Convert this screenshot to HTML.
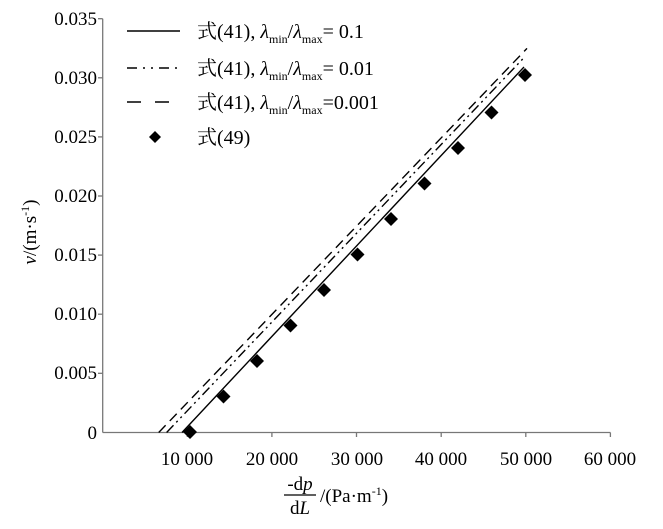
<!DOCTYPE html>
<html><head><meta charset="utf-8"><style>
body{margin:0;background:#fff}
svg text{font-family:"Liberation Serif","Noto Serif CJK SC",serif;fill:#000}
</style></head><body>
<svg width="663" height="524" viewBox="0 0 663 524" xmlns="http://www.w3.org/2000/svg">
<g stroke="#777" stroke-width="1.3" fill="none">
<line x1="102.7" y1="18.7" x2="102.7" y2="432.5"/>
<line x1="102.7" y1="432.5" x2="610.4" y2="432.5"/>
<line x1="98" y1="18.7" x2="102.7" y2="18.7"/>
<line x1="98" y1="77.8" x2="102.7" y2="77.8"/>
<line x1="98" y1="136.9" x2="102.7" y2="136.9"/>
<line x1="98" y1="196" x2="102.7" y2="196"/>
<line x1="98" y1="255.1" x2="102.7" y2="255.1"/>
<line x1="98" y1="314.2" x2="102.7" y2="314.2"/>
<line x1="98" y1="373.3" x2="102.7" y2="373.3"/>
<line x1="187.3" y1="432.5" x2="187.3" y2="437"/>
<line x1="271.9" y1="432.5" x2="271.9" y2="437"/>
<line x1="356.5" y1="432.5" x2="356.5" y2="437"/>
<line x1="441.2" y1="432.5" x2="441.2" y2="437"/>
<line x1="525.8" y1="432.5" x2="525.8" y2="437"/>
<line x1="610.4" y1="432.5" x2="610.4" y2="437"/>
</g>
<g font-size="19" text-anchor="end">
<text x="97" y="25">0.035</text>
<text x="97" y="84">0.030</text>
<text x="97" y="143">0.025</text>
<text x="97" y="202">0.020</text>
<text x="97" y="261">0.015</text>
<text x="97" y="320">0.010</text>
<text x="97" y="379">0.005</text>
<text x="97" y="439">0</text>
</g>
<g font-size="19" text-anchor="middle">
<text x="187" y="465">10 000</text>
<text x="272" y="465">20 000</text>
<text x="357" y="465">30 000</text>
<text x="441" y="465">40 000</text>
<text x="526" y="465">50 000</text>
<text x="610" y="465">60 000</text>
</g>
<!-- x label -->
<text x="300" y="490" font-size="19" text-anchor="middle">-d<tspan font-style="italic">p</tspan></text>
<line x1="284" y1="495" x2="316" y2="495" stroke="#000" stroke-width="1.2"/>
<text x="300" y="514" font-size="19" text-anchor="middle">d<tspan font-style="italic">L</tspan></text>
<text x="320" y="502" font-size="19">/(Pa·m<tspan font-size="12" dy="-7">-1</tspan><tspan dy="7">)</tspan></text>
<!-- y label -->
<text transform="translate(36,232) rotate(-90)" font-size="19" text-anchor="middle"><tspan font-style="italic">v</tspan>/(m·s<tspan font-size="12" dy="-7">-1</tspan><tspan dy="7">)</tspan></text>
<!-- lines -->
<g stroke="#000" stroke-width="1.4" fill="none">
<line x1="182" y1="432.5" x2="524" y2="67"/>
<line x1="166.6" y1="432.5" x2="525" y2="56.6" stroke-dasharray="10,4,2,4,2,4"/>
<line x1="158.7" y1="432.5" x2="527" y2="48.4" stroke-dasharray="10,6"/>
</g>
<g fill="#000">
<path d="M190 425l7 7-7 7-7-7z"/>
<path d="M223.5 389.5l7 7-7 7-7-7z"/>
<path d="M257 354l7 7-7 7-7-7z"/>
<path d="M290.5 318.5l7 7-7 7-7-7z"/>
<path d="M324 283l7 7-7 7-7-7z"/>
<path d="M357.5 247.5l7 7-7 7-7-7z"/>
<path d="M391 212l7 7-7 7-7-7z"/>
<path d="M424.5 176.5l7 7-7 7-7-7z"/>
<path d="M458 141l7 7-7 7-7-7z"/>
<path d="M491.5 105.5l7 7-7 7-7-7z"/>
<path d="M525 68l7 7-7 7-7-7z"/>
</g>
<!-- legend -->
<g stroke="#000" stroke-width="1.4">
<line x1="127" y1="31" x2="180" y2="31"/>
<line x1="127" y1="68" x2="180" y2="68" stroke-dasharray="10,6,2,6,2,6"/>
<line x1="127" y1="102" x2="180" y2="102" stroke-dasharray="14,14"/>
</g>
<path d="M155 131l6 6-6 6-6-6z" fill="#000"/>
<g font-size="20">
<text x="197" y="38">式(41), <tspan font-style="italic">λ</tspan><tspan font-size="12" dy="5">min</tspan><tspan dy="-5">/</tspan><tspan font-style="italic">λ</tspan><tspan font-size="12" dy="5">max</tspan><tspan dy="-5">= 0.1</tspan></text>
<text x="197" y="75">式(41), <tspan font-style="italic">λ</tspan><tspan font-size="12" dy="5">min</tspan><tspan dy="-5">/</tspan><tspan font-style="italic">λ</tspan><tspan font-size="12" dy="5">max</tspan><tspan dy="-5">= 0.01</tspan></text>
<text x="197" y="109">式(41), <tspan font-style="italic">λ</tspan><tspan font-size="12" dy="5">min</tspan><tspan dy="-5">/</tspan><tspan font-style="italic">λ</tspan><tspan font-size="12" dy="5">max</tspan><tspan dy="-5">=0.001</tspan></text>
<text x="197" y="144">式(49)</text>
</g>
</svg>
</body></html>
